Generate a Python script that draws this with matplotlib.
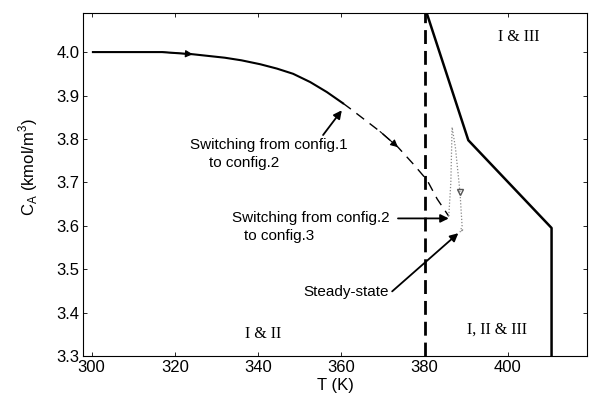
import matplotlib.pyplot as plt
from matplotlib.ticker import FormatStrFormatter

# reactor trajectory through the three configurations
T_cfg1 = [300.3, 305, 310, 316.9, 324.3, 332, 336, 340.5, 344.5, 348.4, 352.5, 356.5, 360.4]
C_cfg1 = [4.0, 4.0, 4.0, 4.0, 3.995, 3.987, 3.981, 3.972, 3.962, 3.950, 3.931, 3.908, 3.882]
T_cfg2 = [360.4, 362.1, 369.3, 373.6, 377.3, 380.6, 383.0, 385.8]
C_cfg2 = [3.882, 3.870, 3.817, 3.781, 3.742, 3.705, 3.662, 3.622]
T_cfg3 = [385.8, 386.3, 386.6, 387.4, 388.5, 389.0, 388.5, 389.3, 388.8]
C_cfg3 = [3.622, 3.70, 3.827, 3.78, 3.677, 3.60, 3.585, 3.592, 3.588]

# operating region boundaries
T_sw = 380
T_bound = [380.5, 390.5, 410.5, 410.5]
C_bound = [4.09, 3.797, 3.595, 3.3]

region_labels = ['I & III', 'I & II', 'I, II & III']
region_pos = [(402.7, 4.035), (341.2, 3.350), (397.5, 3.362)]

xticks = [300, 320, 340, 360, 380, 400]
yticks = [3.3, 3.4, 3.5, 3.6, 3.7, 3.8, 3.9, 4.0]

plt.rcParams['font.family'] = ['Liberation Sans', 'DejaVu Sans']

fig = plt.figure(figsize=(5.89, 4.01), dpi=100)
ax = fig.add_axes([0.1415, 0.112, 0.855, 0.8556])

ax.plot(T_cfg1, C_cfg1, color='black', lw=1.5)
ax.plot(T_cfg2, C_cfg2, color='black', lw=1.0, dashes=(7, 5))
ax.plot(T_cfg3, C_cfg3, color='#888888', lw=0.9, ls=(0, (1, 1.5)))
ax.axvline(T_sw, color='black', lw=2.0, dashes=(5, 2.5))
ax.plot(T_bound, C_bound, color='black', lw=1.8)

# direction arrows along the trajectory
for T, C, i in [(T_cfg1, C_cfg1, 4), (T_cfg2, C_cfg2, 3)]:
    ax.annotate('', xy=(T[i], C[i]), xytext=(T[i - 1], C[i - 1]),
                arrowprops=dict(arrowstyle='-|>', color='black', lw=0.8,
                                mutation_scale=11, shrinkA=0, shrinkB=0))
ax.plot(T_cfg3[4], C_cfg3[4], marker='v', ms=5, color='#555555', mfc='none', mew=1)

arr = dict(arrowstyle='-|>', color='black', lw=1.3, mutation_scale=12, shrinkA=0, shrinkB=0)
ax.annotate('', xy=(360.1, 3.866), xytext=(355.6, 3.809), arrowprops=arr)
ax.text(323.6, 3.786, 'Switching from config.1', fontsize=11, va='center', ha='left')
ax.text(328.2, 3.744, 'to config.2', fontsize=11, va='center', ha='left')

ax.annotate('', xy=(385.8, 3.617), xytext=(373.6, 3.617), arrowprops=arr)
ax.text(371.7, 3.617, 'Switching from config.2', fontsize=11, va='center', ha='right')
ax.text(336.5, 3.576, 'to config.3', fontsize=11, va='center', ha='left')

ax.annotate('', xy=(388.1, 3.583), xytext=(372.2, 3.449), arrowprops=arr)
ax.text(371.3, 3.447, 'Steady-state', fontsize=11, va='center', ha='right')

for lab, (x, y) in zip(region_labels, region_pos):
    ax.text(x, y, lab, family='Liberation Serif', fontsize=11.5, ha='center', va='center')

ax.set_xlim(298, 419)
ax.set_ylim(3.3, 4.09)
ax.set_xticks(xticks)
ax.set_yticks(yticks)
ax.yaxis.set_major_formatter(FormatStrFormatter('%.1f'))
ax.tick_params(direction='in', top=True, right=True, length=3, width=0.6,
               labelsize=12, pad=3)
for s in ax.spines.values():
    s.set_linewidth(0.8)

ax.set_xlabel('T (K)', fontsize=12, labelpad=2)
ax.set_ylabel(r'C$_\mathregular{A}$ (kmol/m$^\mathregular{3}$)', fontsize=12)
ax.yaxis.set_label_coords(-0.086, 0.55)

fig.savefig('out.png', dpi=100)
